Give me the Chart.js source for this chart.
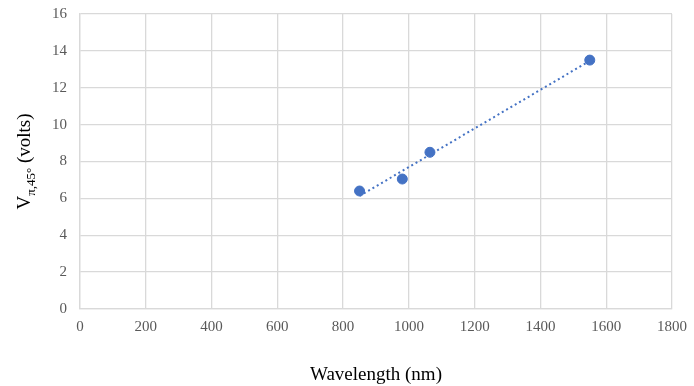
<!DOCTYPE html>
<html>
<head>
<meta charset="utf-8">
<script src="https://cdn.jsdelivr.net/npm/chart.js@4.4.0/dist/chart.umd.min.js"></script>
<style>
  html, body { margin: 0; padding: 0; background: #fff; }
  #wrap { width: 694px; height: 386px; }
</style>
</head>
<body>
<div id="wrap"><canvas id="vChart" width="694" height="386"></canvas></div>
<script>
// data
const wavelengths = [850, 980, 1064, 1550];
const voltages = [6.4, 7.05, 8.5, 13.5];
const xTicks = [0, 200, 400, 600, 800, 1000, 1200, 1400, 1600, 1800];
const yTicks = [0, 2, 4, 6, 8, 10, 12, 14, 16];

// linear trendline (least squares) over the measured points
const n = wavelengths.length;
const mx = wavelengths.reduce((a, b) => a + b, 0) / n;
const my = voltages.reduce((a, b) => a + b, 0) / n;
let sxy = 0, sxx = 0;
wavelengths.forEach((x, i) => {
  sxy += (x - mx) * (voltages[i] - my);
  sxx += (x - mx) * (x - mx);
});
const slope = sxy / sxx;
const x0 = Math.min(...wavelengths), x1 = Math.max(...wavelengths);
const trend = [
  { x: x0, y: my + slope * (x0 - mx) },
  { x: x1, y: my + slope * (x1 - mx) }
];

const blue = '#4472C4';
const gridColor = '#d9d9d9';
const serif = "'Liberation Serif', 'Times New Roman', serif";

// y title with subscript: V_{π,45°} (volts)
const yTitlePlugin = {
  id: 'yTitle',
  afterDraw(chart) {
    const c = chart.ctx;
    const area = chart.chartArea;
    c.save();
    c.translate(30, (area.top + area.bottom) / 2);
    c.rotate(-Math.PI / 2);
    c.fillStyle = '#000';
    c.textBaseline = 'alphabetic';
    const big = '19px ' + serif, small = '13px ' + serif;
    c.font = big;
    const wV = c.measureText('V').width;
    const rest = ' (volts)';
    const wRest = c.measureText(rest).width;
    c.font = small;
    const sub = 'π,45°';
    const wSub = c.measureText(sub).width;
    let x = -(wV + wSub + wRest) / 2;
    c.font = big;
    c.fillText('V', x, 0);
    x += wV;
    c.font = small;
    c.fillText(sub, x, 5);
    x += wSub;
    c.font = big;
    c.fillText(rest, x, 0);
    c.restore();
  }
};

new Chart(document.getElementById('vChart'), {
  type: 'scatter',
  data: {
    datasets: [
      {
        label: 'Vpi',
        data: wavelengths.map((x, i) => ({ x: x, y: voltages[i] })),
        backgroundColor: blue,
        borderColor: blue,
        pointRadius: 5,
        pointHoverRadius: 5,
        order: 1
      },
      {
        label: 'Linear fit',
        type: 'line',
        data: trend,
        borderColor: blue,
        borderWidth: 2,
        borderDash: [2, 3],
        pointRadius: 0,
        fill: false,
        order: 2
      }
    ]
  },
  options: {
    responsive: false,
    animation: false,
    layout: { padding: { top: 14, right: 22, left: 0, bottom: 0 } },
    plugins: {
      legend: { display: false },
      tooltip: { enabled: false }
    },
    scales: {
      x: {
        type: 'linear',
        min: 0,
        max: 1800,
        afterBuildTicks: s => { s.ticks = xTicks.map(v => ({ value: v })); },
        afterFit: s => { s.height = 77; s.paddingLeft = 0; s.paddingRight = 0; },
        grid: { color: gridColor, lineWidth: 1.3, drawTicks: false },
        border: { color: gridColor, width: 1.3 },
        ticks: {
          color: '#595959',
          font: { family: serif, size: 15 },
          padding: 9,
          callback: v => String(v)
        },
        title: {
          display: true,
          text: 'Wavelength (nm)',
          color: '#000',
          font: { family: serif, size: 19 },
          padding: { top: 14, bottom: 0 }
        }
      },
      y: {
        min: 0,
        max: 16,
        afterBuildTicks: s => { s.ticks = yTicks.map(v => ({ value: v })); },
        afterFit: s => { s.width = 80; s.paddingTop = 0; s.paddingBottom = 0; },
        grid: { color: gridColor, lineWidth: 1.3, drawTicks: false },
        border: { color: gridColor, width: 1.3 },
        ticks: {
          color: '#595959',
          font: { family: serif, size: 15 },
          padding: 13,
          callback: v => String(v)
        }
      }
    }
  },
  plugins: [yTitlePlugin]
});
</script>
</body>
</html>
